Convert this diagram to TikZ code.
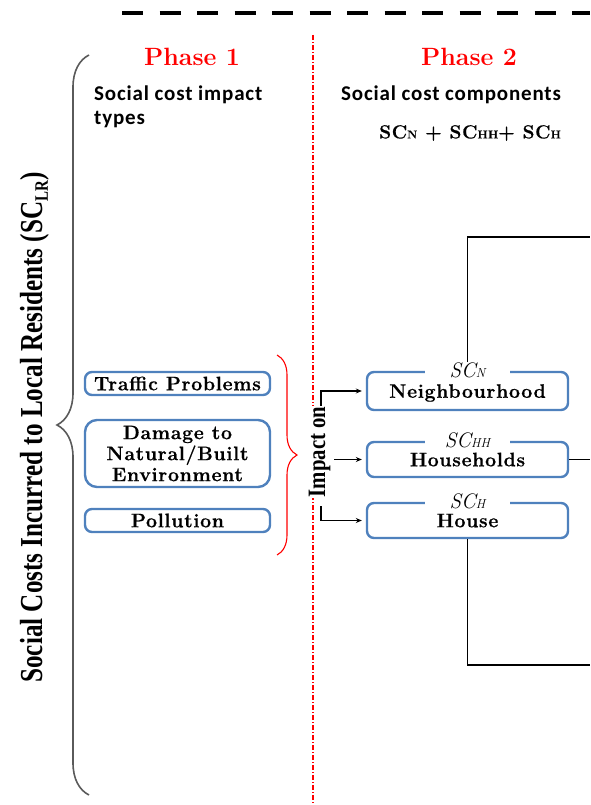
\documentclass[tikz,border=0pt]{standalone}
\usepackage{fontspec}
\newfontfamily\carlitosp{Carlito}[LetterSpace=4]
\newfontfamily\libserif{Liberation Serif}
\newfontfamily\boxfont{Latin Modern Roman}[LetterSpace=3.5, BoldFeatures={FakeBold=0.6}]
\usetikzlibrary{decorations.pathreplacing,arrows.meta}
\definecolor{boxblue}{RGB}{79,129,189}
\definecolor{phred}{RGB}{255,0,0}
\definecolor{bracegray}{RGB}{90,90,90}
\begin{document}
\begin{tikzpicture}[x=1pt,y=-1pt,
  bluebox/.style={draw=boxblue, line width=2.4pt, rounded corners=7pt, fill=white,
    align=center, inner sep=0pt, font=\boxfont\bfseries\fontsize{19.5}{21}\selectfont},
  sclabel/.style={fill=white, inner sep=0pt, minimum width=85pt, minimum height=13pt,
    font=\fontsize{21}{21}\selectfont\itshape},
  phase/.style={text=phred, font=\fontsize{25}{25}\selectfont\bfseries, inner sep=0pt},
  sanslbl/.style={font=\carlitosp\bfseries\fontsize{21}{24}\selectfont, inner sep=0pt, align=left, anchor=north west},
  conn/.style={draw=black, line width=1.1pt},
  arr/.style={conn, -{Stealth[length=6pt,width=5pt]}, shorten >=4pt},
]
\useasboundingbox (0,0) rectangle (590,805);

% top dashed line
\coordinate (d1) at (122,13);
\coordinate (d2) at (590,13);
\draw[line width=3.5pt, dash pattern=on 21pt off 16.5pt] (d1) -- (d2);

% red dash-dot separator
\coordinate (r1) at (313,35);
\coordinate (r2) at (313,805);
\draw[phred, line width=1.1pt, dash pattern=on 5pt off 2pt on 1pt off 2pt] (r1) -- (r2);

% left brace and label
\coordinate (b1) at (89,795);
\coordinate (b2) at (89,55);
\draw[bracegray, line width=1.6pt, decorate, decoration={brace, amplitude=32pt, aspect=0.5}] (b1) -- (b2);
\node[rotate=90, anchor=base, inner sep=0pt] (sclr) at (42,427.5)
  {\libserif\bfseries\fontsize{32}{32}\selectfont\scalebox{0.785}[1]{Social Costs Incurred to Local Residents (SC\raisebox{-0.18em}{\fontsize{19}{19}\selectfont LR})}};

% phases
\node[phase] (ph1) at (192,57) {Phase 1};
\node[phase] (ph2) at (469,57) {Phase 2};
\node[sanslbl] (t1) at (94,86) {Social cost impact\\types};
\node[sanslbl] (t2) at (341,86) {Social cost components};
\node[inner sep=0pt, font=\boxfont\bfseries\fontsize{19}{19}\selectfont] (frm) at (470,133)
  {SC{\fontsize{11.5}{11.5}\selectfont N} + SC{\fontsize{11.5}{11.5}\selectfont HH}+ SC{\fontsize{11.5}{11.5}\selectfont H}};

% phase 1 boxes
\node[bluebox, minimum width=185pt, minimum height=23pt] (traffic) at (177.5,383.5) {Traffic Problems};
\node[bluebox, rounded corners=12pt, minimum width=185pt, minimum height=67pt] (damage) at (177.5,453.5) {Damage to\\Natural/Built\\Environment};
\node[bluebox, minimum width=185pt, minimum height=23pt] (pollution) at (177.5,520.5) {Pollution};

% red brace
\coordinate (rb1) at (277,355);
\coordinate (rb2) at (277,555);
\draw[phred, line width=1.1pt, decorate, decoration={brace, amplitude=20pt}] (rb1) -- (rb2);

% impact on
\node[rotate=90, anchor=base, fill=white, inner xsep=1pt, inner ysep=2pt] (imp) at (325,452)
  {\libserif\bfseries\fontsize{25}{25}\selectfont\scalebox{0.83}[1]{Impact on}};

% phase 2 boxes
\node[bluebox, minimum width=201pt, minimum height=38pt, text depth=-3pt] (neigh) at (467.5,391) {Neighbourhood};
\node[bluebox, minimum width=201pt, minimum height=35pt, text depth=-3pt] (hh) at (467.5,459.5) {Households};
\node[bluebox, minimum width=201pt, minimum height=35pt, text depth=-3pt] (house) at (467.5,520.5) {House};
\node[sclabel] (nlab) at (467.5,370) {SC{\fontsize{13}{13}\selectfont N}};
\node[sclabel] (hhlab) at (467.5,440) {SC{\fontsize{13}{13}\selectfont HH}};
\node[sclabel] (hlab) at (467.5,501) {SC{\fontsize{13}{13}\selectfont H}};

% arrows
\coordinate (a1) at (321,406);
\coordinate (a2) at (334,459.5);
\coordinate (a3) at (321,506);
\draw[arr] (a1) |- (neigh.west);
\draw[arr] (a2) -- (hh.west);
\draw[arr] (a3) |- (house.west);

% lines to the right edge
\coordinate (e1) at (590,237);
\coordinate (e2) at (590,459.5);
\coordinate (e3) at (590,665);
\draw[conn] (nlab.north) |- (e1);
\draw[conn] (hh.east) -- (e2);
\draw[conn] (house.south) |- (e3);
\end{tikzpicture}
\end{document}
